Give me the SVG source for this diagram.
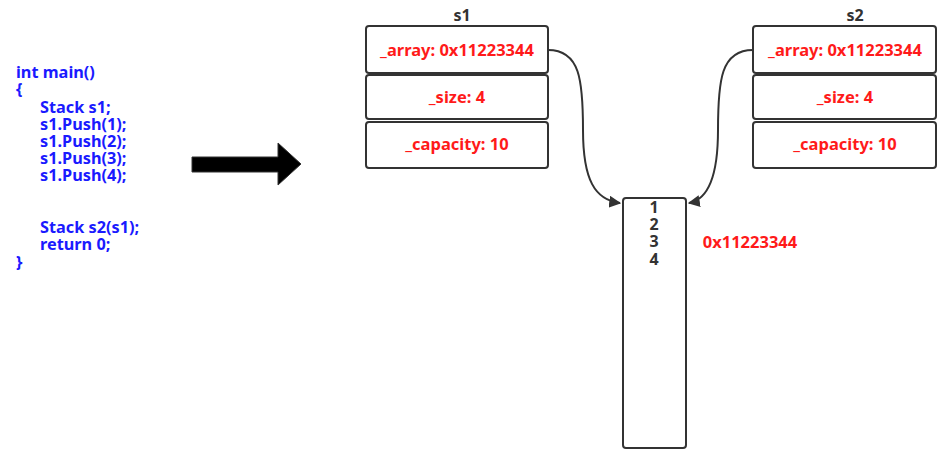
<svg xmlns="http://www.w3.org/2000/svg" width="948" height="456" viewBox="0 0 948 456">
<defs>
<style>
.code{font-family:"Noto Sans","Open Sans",sans-serif;font-weight:bold;font-size:16.3px;fill:#1a1aff}
.box{fill:#fff;stroke:#333;stroke-width:2}
.fld{font-family:"Noto Sans","Open Sans",sans-serif;font-weight:bold;font-size:16.5px;fill:#ff1a1a;text-anchor:middle}
.ttl{font-family:"Noto Sans","Open Sans",sans-serif;font-weight:bold;font-size:16px;fill:#333;text-anchor:middle}
.num{font-family:"Noto Sans","Open Sans",sans-serif;font-weight:bold;font-size:16px;fill:#333;text-anchor:middle}
.con{fill:none;stroke:#333;stroke-width:2}
</style>
<marker id="ah" viewBox="0 0 10 10" refX="9" refY="5" markerWidth="6" markerHeight="6" orient="auto" markerUnits="strokeWidth">
<path d="M0,0 L10,5 L0,10 z" fill="#333"/>
</marker>
</defs>
<rect width="948" height="456" fill="#fff"/>
<g id="code">
<text class="code" x="16" y="78">int main()</text>
<text class="code" x="16" y="95">{</text>
<text class="code" x="40" y="113">Stack s1;</text>
<text class="code" x="40" y="130">s1.Push(1);</text>
<text class="code" x="40" y="147">s1.Push(2);</text>
<text class="code" x="40" y="164">s1.Push(3);</text>
<text class="code" x="40" y="181">s1.Push(4);</text>
<text class="code" x="40" y="233">Stack s2(s1);</text>
<text class="code" x="40" y="250">return 0;</text>
<text class="code" x="16" y="268">}</text>
</g>
<g id="bigarrow">
<path d="M192,157 L278,157 L278,143 L301,164 L278,185 L278,172 L192,172 Z" fill="#000" stroke="#333" stroke-width="1"/>
</g>
<g id="s1">
<text class="ttl" x="462" y="21">s1</text>
<rect class="box" x="366" y="26" width="182" height="47" rx="3"/>
<text class="fld" x="457" y="56">_array: 0x11223344</text>
<rect class="box" x="366" y="75" width="182" height="44" rx="3"/>
<text class="fld" x="457" y="103">_size: 4</text>
<rect class="box" x="366" y="122" width="182" height="46" rx="3"/>
<text class="fld" x="457" y="150">_capacity: 10</text>
</g>
<g id="s2">
<text class="ttl" x="855" y="21">s2</text>
<rect class="box" x="753" y="26" width="183" height="47" rx="3"/>
<text class="fld" x="845" y="56">_array: 0x11223344</text>
<rect class="box" x="753" y="75" width="183" height="44" rx="3"/>
<text class="fld" x="845" y="103">_size: 4</text>
<rect class="box" x="753" y="122" width="183" height="46" rx="3"/>
<text class="fld" x="845" y="150">_capacity: 10</text>
</g>
<g id="heap">
<rect class="box" x="623" y="198" width="63" height="250" rx="3"/>
<text class="num" x="654" y="213">1</text>
<text class="num" x="654" y="230">2</text>
<text class="num" x="654" y="247">3</text>
<text class="num" x="654" y="265">4</text>
<text class="fld" x="750" y="248">0x11223344</text>
</g>
<g id="connectors">
<path class="con" d="M548,50 C580,50 583,80 583,130 C583,180 595,200 620,203" marker-end="url(#ah)"/>
<path class="con" d="M753,50 C721,50 718,80 718,130 C718,180 706,200 689,203" marker-end="url(#ah)"/>
</g>
</svg>
